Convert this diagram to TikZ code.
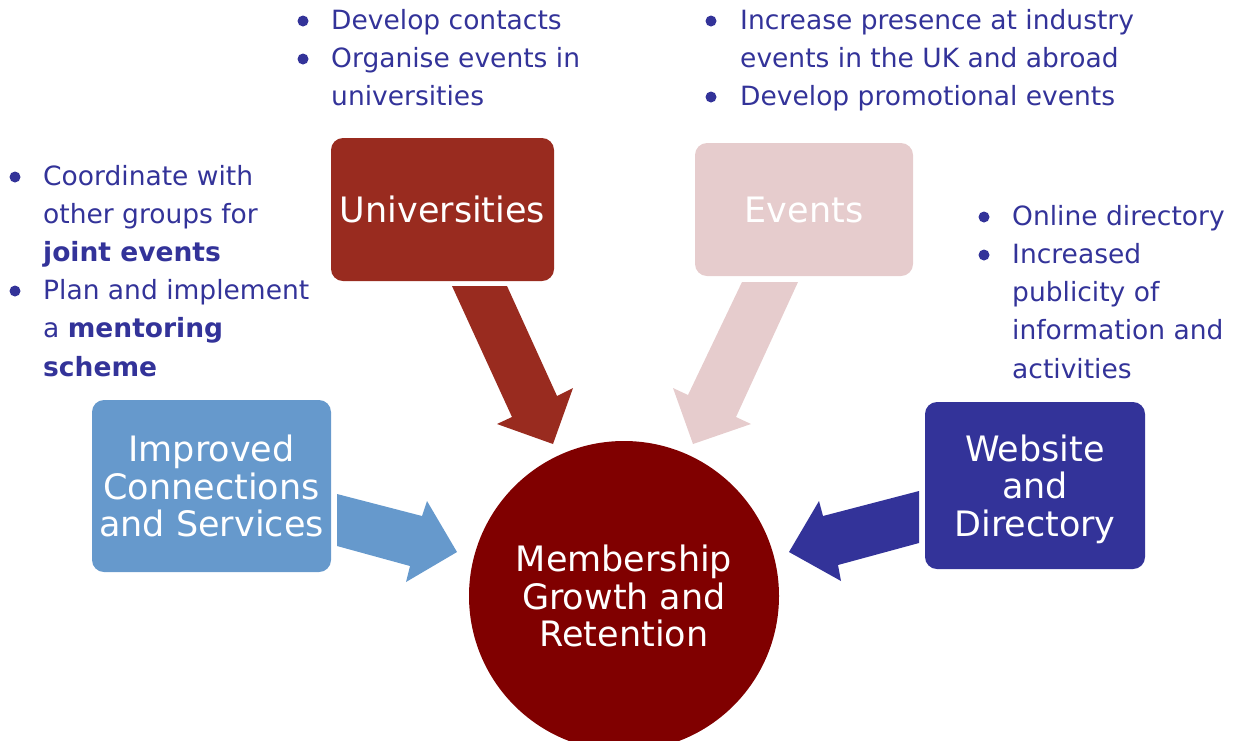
\documentclass[tikz,border=0pt]{standalone}
\usepackage{fontspec}
\setmainfont{DejaVu Sans}
\definecolor{univc}{RGB}{153,43,31}
\definecolor{evc}{RGB}{230,204,205}
\definecolor{impc}{RGB}{102,153,204}
\definecolor{webc}{RGB}{51,51,153}
\definecolor{mgrc}{RGB}{128,0,0}
\begin{document}
\begin{tikzpicture}[x=1pt,y=-1pt,
  box/.style={rectangle, rounded corners=12pt, inner sep=0pt, text=white, align=center,
    font=\fontsize{35}{37.5}\selectfont},
  line/.style={anchor=base west, inner sep=0pt, text=webc, font=\fontsize{26.5}{38}\selectfont},
  bul/.style={fill=webc}]
\useasboundingbox (0,0) rectangle (1234,740);
\clip (0,0) rectangle (1234,740);

% boxes
\node[box, fill=univc, minimum width=223pt, minimum height=143pt] (univ) at (442.5,209.5) {Universities};
\node[box, fill=evc, minimum width=218pt, minimum height=133pt] (ev) at (804,209.5) {Events};
\node[box, fill=impc, minimum width=239pt, minimum height=172pt] (imp) at (211.5,486) {Improved\\Connections\\and Services};
\node[box, fill=webc, minimum width=220pt, minimum height=167pt] (web) at (1035,485.5) {Website\\and\\\raisebox{0pt}[\height][0pt]{Directory}};
\node[circle, fill=mgrc, minimum size=310pt, inner sep=0pt, text=white, align=center,
  font=\fontsize{35}{37.5}\selectfont] (mgr) at (624,596) {Membership\\Growth and\\Retention};

% block arrows
\fill[univc] (452,286) -- (507,286) -- (557,396) -- (573,388) -- (553,444) -- (497,424) -- (512,417) -- cycle;
\fill[evc] (798,282) -- (742,282) -- (688,395) -- (673,388) -- (693,444) -- (751,424) -- (736,417) -- cycle;
\fill[impc] (337,494) -- (422,516) -- (427,501) -- (457,552) -- (406,582) -- (410,566) -- (337,546) -- cycle;
\fill[webc] (919,491) -- (823,516) -- (819,501) -- (789,552) -- (841,581) -- (838,565) -- (919,543) -- cycle;

% top middle list
\fill[bul] (303,21) circle (5.5pt);
\fill[bul] (303,59) circle (5.5pt);
\node[line] (u1) at (331,29) {Develop contacts};
\node[line] (u2) at (331,67) {Organise events in};
\node[line] (u3) at (331,105) {universities};

% top right list
\fill[bul] (711,21) circle (5.5pt);
\fill[bul] (711,97) circle (5.5pt);
\node[line] (e1) at (740,29) {Increase presence at industry};
\node[line] (e2) at (740,67) {events in the UK and abroad};
\node[line] (e3) at (740,105) {Develop promotional events};

% left list
\fill[bul] (15,177) circle (5.5pt);
\fill[bul] (15,291) circle (5.5pt);
\node[line] (i1) at (43,185) {Coordinate with};
\node[line] (i2) at (43,223) {other groups for};
\node[line] (i3) at (43,261) {\textbf{joint events}};
\node[line] (i4) at (43,299) {Plan and implement};
\node[line] (i5) at (43,337) {a \textbf{mentoring}};
\node[line] (i6) at (43,376) {\textbf{scheme}};

% right list
\fill[bul] (984,217) circle (5.5pt);
\fill[bul] (984,255) circle (5.5pt);
\node[line] (w1) at (1012,225) {Online directory};
\node[line] (w2) at (1012,263) {Increased};
\node[line] (w3) at (1012,301) {publicity of};
\node[line] (w4) at (1012,339) {information and};
\node[line] (w5) at (1012,378) {activities};
\end{tikzpicture}
\end{document}
